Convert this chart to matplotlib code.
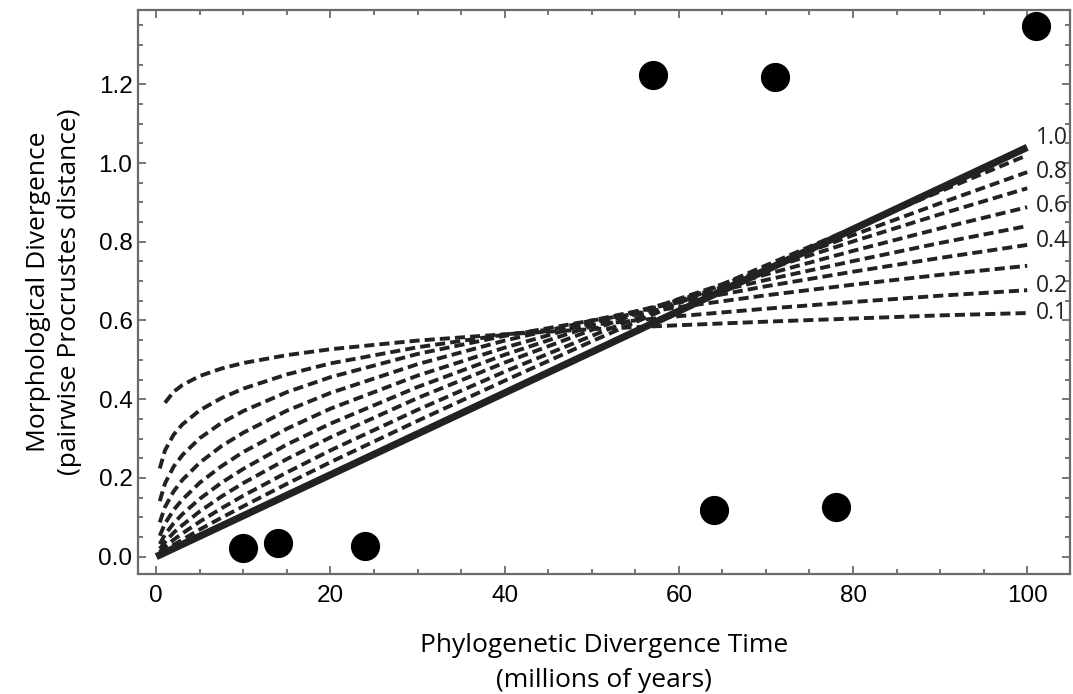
import numpy as np
import matplotlib
matplotlib.use("Agg")
import matplotlib.pyplot as plt
from matplotlib.ticker import MultipleLocator

# observed pairs: divergence time (Myr) vs Procrustes distance
obs_t = [10, 14, 24, 57, 64, 71, 78, 101]
obs_d = [0.022, 0.035, 0.027, 1.224, 0.119, 1.219, 0.126, 1.349]

# model curves, one per exponent
t_grid = [0.4, 1, 2, 3, 5, 7.5, 10, 15, 20, 30, 40, 50, 60, 70, 80, 90, 100]
curve_01 = [np.nan, 0.391, 0.419, 0.436, 0.459, 0.478, 0.492, 0.512, 0.527, 0.549, 0.565, 0.578, 0.588, 0.597, 0.605, 0.613, 0.619]
curve_02 = [0.224, 0.270, 0.310, 0.336, 0.372, 0.403, 0.427, 0.463, 0.491, 0.532, 0.564, 0.589, 0.611, 0.630, 0.647, 0.663, 0.677]
curve_03 = [0.141, 0.186, 0.229, 0.258, 0.301, 0.340, 0.370, 0.418, 0.456, 0.515, 0.561, 0.600, 0.634, 0.664, 0.691, 0.716, 0.739]
curve_04 = [0.087, 0.126, 0.166, 0.195, 0.239, 0.281, 0.315, 0.371, 0.416, 0.489, 0.549, 0.600, 0.646, 0.687, 0.724, 0.759, 0.792]
curve_05 = [0.053, 0.084, 0.119, 0.145, 0.188, 0.230, 0.266, 0.325, 0.376, 0.460, 0.531, 0.594, 0.651, 0.703, 0.751, 0.797, 0.840]
curve_06 = [0.032, 0.056, 0.085, 0.108, 0.147, 0.188, 0.223, 0.285, 0.338, 0.431, 0.513, 0.586, 0.653, 0.717, 0.777, 0.834, 0.888]
curve_07 = [0.020, 0.037, 0.061, 0.080, 0.115, 0.153, 0.187, 0.248, 0.303, 0.403, 0.493, 0.576, 0.655, 0.729, 0.801, 0.870, 0.936]
curve_08 = [0.012, 0.025, 0.043, 0.059, 0.089, 0.123, 0.155, 0.214, 0.270, 0.373, 0.470, 0.561, 0.649, 0.734, 0.817, 0.898, 0.977]
curve_09 = [0.007, 0.016, 0.030, 0.043, 0.069, 0.099, 0.128, 0.185, 0.240, 0.345, 0.447, 0.547, 0.644, 0.740, 0.835, 0.928, 1.020]
linear_t = [0, 100]
linear_d = [0, 1.04]

dashed = [curve_01, curve_02, curve_03, curve_04, curve_05,
          curve_06, curve_07, curve_08, curve_09]
labels = {"1.0": 1.064, "0.8": 0.977, "0.6": 0.891, "0.4": 0.802, "0.2": 0.688, "0.1": 0.619}

fig = plt.figure(figsize=(10.73, 6.94), dpi=100)
ax = fig.add_axes([0.1286, 0.173, 0.8685, 0.8126])

ink = '#222222'
ax.plot(linear_t, linear_d, color=ink, lw=5.2, solid_capstyle='butt', zorder=3)
for c in dashed:
    ax.plot(t_grid, c, color=ink, lw=2.8, dashes=(2.6, 1.3), zorder=2)

ax.scatter(obs_t, obs_d, s=400, color='black', zorder=4, clip_on=False)

for k, v in labels.items():
    ax.text(101.0, v, k, fontsize=16.5, family='Open Sans', va='center', ha='left', color='#222222')

ax.set_xlim(-2.1, 104.9)
ax.set_ylim(-0.044, 1.389)
ax.xaxis.set_major_locator(MultipleLocator(20))
ax.xaxis.set_minor_locator(MultipleLocator(5))
ax.yaxis.set_major_locator(MultipleLocator(0.2))
ax.yaxis.set_minor_locator(MultipleLocator(0.05))
ax.yaxis.set_major_formatter(matplotlib.ticker.FormatStrFormatter('%.1f'))

for s in ax.spines.values():
    s.set_color('#6b6b6b')
    s.set_linewidth(1.6)
ax.tick_params(which='both', direction='in', top=True, right=True, color='#6b6b6b', width=1.3)
ax.tick_params(which='major', length=6)
ax.tick_params(which='minor', length=3.5)
ax.tick_params(axis='x', labelsize=17.5, pad=8)
ax.tick_params(axis='y', labelsize=17.5, pad=4)
for lab in ax.get_xticklabels() + ax.get_yticklabels():
    lab.set_family('Liberation Sans')

ax.set_xlabel("Phylogenetic Divergence Time\n(millions of years)", fontsize=19,
              family='Open Sans', labelpad=19, linespacing=1.5)
ax.set_ylabel("Morphological Divergence\n(pairwise Procrustes distance)", fontsize=19,
              family='Open Sans', labelpad=12, linespacing=1.3)

plt.savefig('out.png', dpi=100)
